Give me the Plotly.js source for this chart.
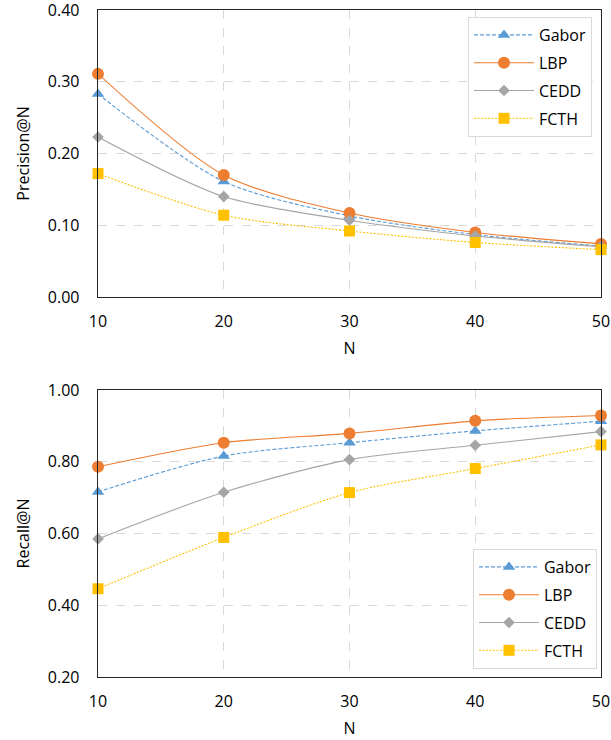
<!DOCTYPE html>
<html>
<head>
<meta charset="utf-8">
<script src="https://cdn.plot.ly/plotly-3.0.1.min.js"></script>
<style>html,body{margin:0;padding:0;background:#fff;}#chart{width:611px;height:740px;}</style>
</head>
<body>
<div id="chart"></div>
<script>
const N = [10, 20, 30, 40, 50];
const seriesNames = ['Gabor', 'LBP', 'CEDD', 'FCTH'];
const precisionGabor = [0.283, 0.161, 0.113, 0.087, 0.071];
const precisionLBP   = [0.311, 0.170, 0.117, 0.090, 0.074];
const precisionCEDD  = [0.223, 0.140, 0.107, 0.085, 0.070];
const precisionFCTH  = [0.172, 0.114, 0.092, 0.076, 0.066];
const recallGabor = [0.716, 0.816, 0.853, 0.886, 0.913];
const recallLBP   = [0.786, 0.853, 0.879, 0.914, 0.929];
const recallCEDD  = [0.585, 0.715, 0.806, 0.846, 0.884];
const recallFCTH  = [0.446, 0.589, 0.714, 0.781, 0.847];
const precisionTicks = [0, 0.1, 0.2, 0.3, 0.4];
const recallTicks = [0.2, 0.4, 0.6, 0.8, 1.0];

const styles = [
  {color: '#5b9bd5', dash: '4px,2px', symbol: 'triangle-up', size: 11},
  {color: '#ed7d31', dash: 'solid', symbol: 'circle', size: 12},
  {color: '#a5a5a5', dash: 'solid', symbol: 'diamond', size: 9},
  {color: '#ffc000', dash: '2px,1.5px', symbol: 'square', size: 11}
];
const precision = [precisionGabor, precisionLBP, precisionCEDD, precisionFCTH];
const recall = [recallGabor, recallLBP, recallCEDD, recallFCTH];

const traces = [];
precision.forEach((ys, i) => {
  traces.push({
    x: N, y: ys, name: seriesNames[i], type: 'scatter', mode: 'lines+markers',
    xaxis: 'x', yaxis: 'y', legend: 'legend', legendgroup: 'p' + i, cliponaxis: false,
    line: {color: styles[i].color, dash: styles[i].dash, width: 1.1, shape: 'spline', smoothing: 0.8},
    marker: {color: styles[i].color, symbol: styles[i].symbol, size: styles[i].size}
  });
});
recall.forEach((ys, i) => {
  traces.push({
    x: N, y: ys, name: seriesNames[i], type: 'scatter', mode: 'lines+markers',
    xaxis: 'x2', yaxis: 'y2', legend: 'legend2', legendgroup: 'r' + i, cliponaxis: false,
    line: {color: styles[i].color, dash: styles[i].dash, width: 1.1, shape: 'spline', smoothing: 0.8},
    marker: {color: styles[i].color, symbol: styles[i].symbol, size: styles[i].size}
  });
});

const FF = 'Open Sans, sans-serif';
function xax() {
  return {
    range: [10, 50], tickvals: N, ticktext: N.map(String), showgrid: true,
    gridcolor: '#d9d9d9', griddash: 'dash', gridwidth: 1,
    showline: true, linecolor: '#262626', linewidth: 1.3, mirror: true,
    zeroline: false, ticks: '', ticklabelstandoff: 9, ticklabeloverflow: 'allow',
    tickfont: {family: FF, size: 16, color: '#000'},
    title: {text: 'N', font: {family: FF, size: 16, color: '#000'}, standoff: 12}
  };
}
function yax(range, ticks, title) {
  return {
    range: range, tickvals: ticks, ticktext: ticks.map(v => v.toFixed(2)), showgrid: true,
    gridcolor: '#d9d9d9', griddash: 'dash', gridwidth: 1,
    showline: true, linecolor: '#262626', linewidth: 1.3, mirror: true,
    zeroline: false, ticks: '', ticklabelstandoff: 14, ticklabeloverflow: 'allow',
    tickfont: {family: FF, size: 16, color: '#000'},
    title: {text: title, font: {family: FF, size: 16, color: '#000'}, standoff: 14}
  };
}

const legendBase = {
  xanchor: 'left', yanchor: 'top',
  bgcolor: '#fff', bordercolor: '#d9d9d9', borderwidth: 1,
  font: {family: FF, size: 16, color: '#000'},
  traceorder: 'grouped', tracegroupgap: 4, itemwidth: 60
};

const layout = {
  width: 611, height: 740,
  margin: {l: 98, r: 10, t: 10, b: 63},
  paper_bgcolor: '#fff', plot_bgcolor: '#fff',
  font: {family: FF, size: 16, color: '#000'},
  xaxis: Object.assign(xax(), {domain: [0, 1], anchor: 'y'}),
  yaxis: Object.assign(yax([0, 0.40001], precisionTicks, 'Precision@N'), {domain: [0.5697, 1], anchor: 'x'}),
  xaxis2: Object.assign(xax(), {domain: [0, 1], anchor: 'y2'}),
  yaxis2: Object.assign(yax([0.2, 1.00001], recallTicks, 'Recall@N'), {domain: [0, 0.4303], anchor: 'x2'}),
  legend: Object.assign({}, legendBase, {x: 0.7356, y: 0.9895}),
  legend2: Object.assign({}, legendBase, {x: 0.7455, y: 0.1919}),
  showlegend: true
};

Plotly.newPlot('chart', traces, layout, {displayModeBar: false, staticPlot: true});
</script>
</body>
</html>
